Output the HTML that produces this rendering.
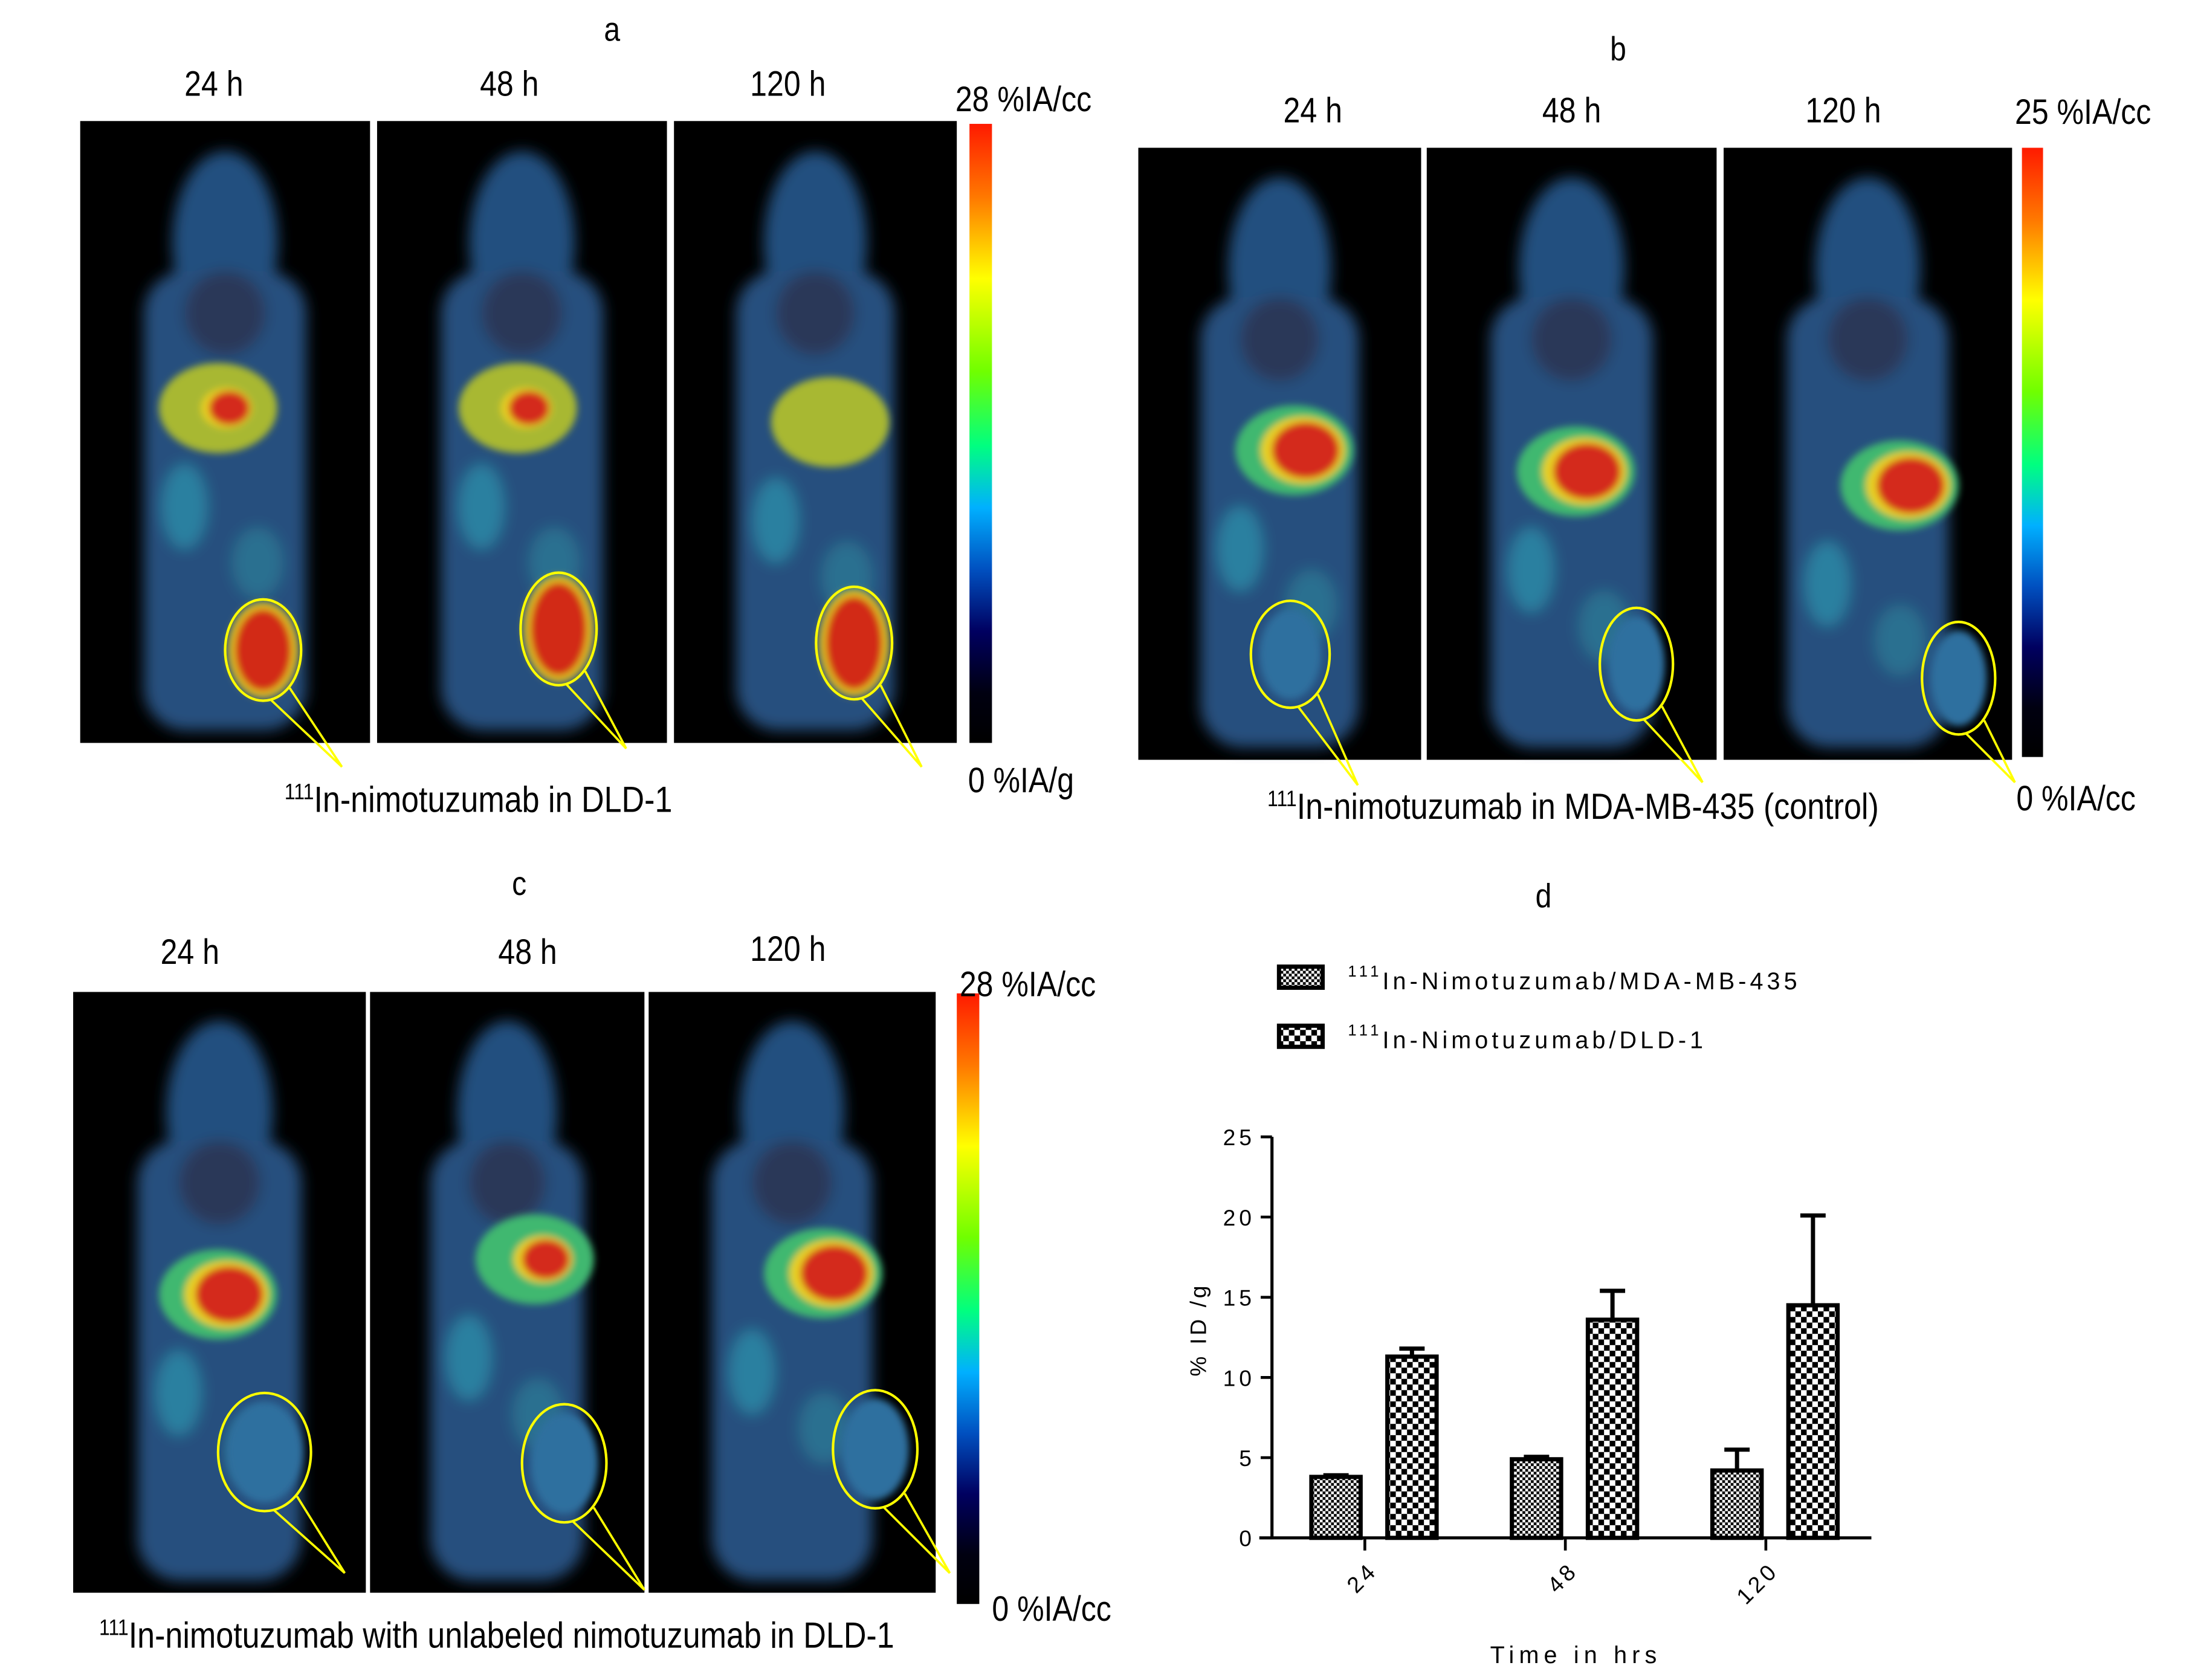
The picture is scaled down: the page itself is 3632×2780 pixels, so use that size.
<!DOCTYPE html>
<html><head><meta charset="utf-8"><style>
html,body{margin:0;padding:0;background:#fff}
svg{display:block}
text{font-family:"Liberation Sans",Arial,sans-serif;fill:#000}
</style></head><body>
<svg id="root" width="3632" height="2780" viewBox="0 0 1560 1194" xmlns="http://www.w3.org/2000/svg">
<defs>
<filter id="blur" x="-30%" y="-30%" width="160%" height="160%"><feGaussianBlur stdDeviation="5"/></filter>
<filter id="blur2" x="-30%" y="-30%" width="160%" height="160%"><feGaussianBlur stdDeviation="2.5"/></filter>
<linearGradient id="cbar" x1="0" y1="0" x2="0" y2="1">
<stop offset="0" stop-color="#ff1a00"/><stop offset="0.12" stop-color="#ff7a00"/><stop offset="0.25" stop-color="#ffff00"/><stop offset="0.4" stop-color="#70ff00"/><stop offset="0.52" stop-color="#00ff80"/><stop offset="0.62" stop-color="#00b0ff"/><stop offset="0.72" stop-color="#0050c0"/><stop offset="0.82" stop-color="#000060"/><stop offset="0.92" stop-color="#000010"/><stop offset="1" stop-color="#000"/>
</linearGradient>
<pattern id="fine" width="4" height="4" patternUnits="userSpaceOnUse"><rect width="4" height="4" fill="#fff"/><rect width="2" height="2" fill="#000"/><rect x="2" y="2" width="2" height="2" fill="#000"/></pattern>
<pattern id="coarse" width="8" height="8" patternUnits="userSpaceOnUse"><rect width="8" height="8" fill="#fff"/><rect width="4" height="4" fill="#000"/><rect x="4" y="4" width="4" height="4" fill="#000"/></pattern>
</defs>
<g id="images"></g>
<g id="chart"></g>
</svg>
<script>
const NS="http://www.w3.org/2000/svg";
function el(tag,attrs,parent,txt){const e=document.createElementNS(NS,tag);for(const k in attrs)e.setAttribute(k,attrs[k]);if(txt!==undefined)e.textContent=txt;parent.appendChild(e);return e;}
const imgs=document.getElementById('images');

const panels=[
 {g:'a',x:57,y:86,w:206,h:442,lx:155,ly:290,hot:0.6,tx:187,ty:462,rx:27,ry:36,th:1,px:243,py:545},
 {g:'a',x:268,y:86,w:206,h:442,lx:368,ly:290,hot:0.6,tx:397,ty:447,rx:27,ry:40,th:1,px:445,py:532},
 {g:'a',x:479,y:86,w:201,h:442,lx:590,ly:300,hot:0.25,tx:607,ty:457,rx:27,ry:40,th:1,px:655,py:545},
 {g:'b',x:809,y:105,w:201,h:435,lx:920,ly:320,hot:1,tx:917,ty:465,rx:28,ry:38,th:0,px:965,py:558},
 {g:'b',x:1014,y:105,w:206,h:435,lx:1120,ly:335,hot:1,tx:1163,ty:472,rx:26,ry:40,th:0,px:1210,py:556},
 {g:'b',x:1225,y:105,w:205,h:435,lx:1350,ly:345,hot:1,tx:1392,ty:482,rx:26,ry:40,th:0,px:1432,py:556},
 {g:'c',x:52,y:705,w:208,h:427,lx:155,ly:920,hot:1,tx:188,ty:1032,rx:33,ry:42,th:0,px:245,py:1118},
 {g:'c',x:263,y:705,w:195,h:427,lx:380,ly:895,hot:0.7,tx:401,ty:1040,rx:30,ry:42,th:0,px:458,py:1130},
 {g:'c',x:461,y:705,w:204,h:427,lx:585,ly:905,hot:1,tx:622,ty:1030,rx:30,ry:42,th:0,px:675,py:1118}
];
panels.forEach((p,i)=>{
 const g=el('g',{},imgs);
 
 
 el('rect',{x:p.x,y:p.y,width:p.w,height:p.h,fill:'#000'},g);
 const cx=p.x+p.w*0.5, bw=p.w*0.28;
 const top=p.y+p.h*0.06, bot=p.y+p.h*0.98;
 const b=el('g',{filter:'url(#blur)'},g);
 el('ellipse',{cx:cx,cy:top+60,rx:bw*0.65,ry:65,fill:'#24507f'},b);
 el('rect',{x:cx-bw,y:top+80,width:bw*2,height:bot-top-80,rx:30,fill:'#25507e'},b);
 el('ellipse',{cx:cx-bw*0.5,cy:p.ly+70,rx:16,ry:30,fill:'#2a80a0'},b);
 el('ellipse',{cx:cx+bw*0.4,cy:p.ly+110,rx:18,ry:25,fill:'#2a7090'},b);
 el('ellipse',{cx:cx,cy:top+110,rx:bw*0.5,ry:30,fill:'#2a3858'},b);
 const lv=el('g',{filter:'url(#blur2)'},g);
 el('ellipse',{cx:p.lx,cy:p.ly,rx:42,ry:32,fill:p.g==='a'?'#a8b830':'#40b870'},lv);
 if(p.hot>0.3){el('ellipse',{cx:p.lx+6,cy:p.ly,rx:30*p.hot,ry:24*p.hot,fill:'#e8d020'},lv);
  el('ellipse',{cx:p.lx+8,cy:p.ly,rx:24*p.hot,ry:20*p.hot,fill:'#d42a1a'},lv);}
 const tm=el('g',{filter:'url(#blur2)'},g);
 if(p.th){el('ellipse',{cx:p.tx,cy:p.ty,rx:p.rx-2,ry:p.ry-2,fill:'#e0c020'},tm);el('ellipse',{cx:p.tx,cy:p.ty,rx:p.rx-7,ry:p.ry-7,fill:'#d22a18'},tm);}
 else el('ellipse',{cx:p.tx,cy:p.ty,rx:p.rx-6,ry:p.ry-6,fill:'#2f6f9f'},tm);
 el('polyline',{points:`${p.tx+p.rx*0.7},${p.ty+p.ry*0.75} ${p.px},${p.py} ${p.tx+p.rx*0.2},${p.ty+p.ry*0.98}`,fill:'none',stroke:'#ffff00','stroke-width':1.6},g);
 el('ellipse',{cx:p.tx,cy:p.ty,rx:p.rx,ry:p.ry,fill:'none',stroke:'#ffff00','stroke-width':1.8},g);
});
const cbars=[[689,88,16,440],[1437,105,15,433],[680,706,16,434]];
cbars.forEach((c,i)=>{const r=el('rect',{x:c[0],y:c[1],width:c[2],height:c[3],fill:'url(#cbar)'},imgs);
 
 });
function T(x,y,s,size,name,anchor){const t=el('text',{x:x,y:y,'font-size':size,'text-anchor':anchor||'middle',transform:`translate(${x},${y}) scale(0.86,1) translate(${-x},${-y})`},imgs,s);
 
 return t;}
T(435,29,'a',24,'panel-label-a');T(1150,43,'b',24,'panel-label-b');T(369,636,'c',24,'panel-label-c');T(1097,645,'d',24,'panel-label-d');
[[152,68],[362,68],[560,68]].forEach((p,i)=>T(p[0],p[1],['24 h','48 h','120 h'][i],25,'time-label-a'));
[[933,87],[1117,87],[1310,87]].forEach((p,i)=>T(p[0],p[1],['24 h','48 h','120 h'][i],25,'time-label-b'));
[[135,685],[375,685],[560,683]].forEach((p,i)=>T(p[0],p[1],['24 h','48 h','120 h'][i],25,'time-label-c'));
T(679,79,'28 %IA/cc',25,'colorbar-max-a','start');T(688,563,'0 %IA/g',25,'colorbar-min-a','start');
T(1432,88,'25 %IA/cc',25,'colorbar-max-b','start');T(1433,576,'0 %IA/cc',25,'colorbar-min-b','start');
T(682,708,'28 %IA/cc',25,'colorbar-max-c','start');T(705,1152,'0 %IA/cc',25,'colorbar-min-c','start');
function cap(x,y,s,name){const t=el('text',{x:x,y:y,'font-size':26,'text-anchor':'middle',transform:`translate(${x},${y}) scale(0.86,1) translate(${-x},${-y})`},imgs);
 
 el('tspan',{'font-size':16,dy:-9},t,'111');el('tspan',{dy:9},t,s);}
cap(340,577,'In-nimotuzumab in DLD-1','caption-a');
cap(1118,582,'In-nimotuzumab in MDA-MB-435 (control)','caption-b');
cap(353,1171,'In-nimotuzumab with unlabeled nimotuzumab in DLD-1','caption-c');

// ---- bar chart ----
const categories=['24','48','120'];
const seriesNames=['In-Nimotuzumab/MDA-MB-435','In-Nimotuzumab/DLD-1'];
const mdaValues=[3.8,4.9,4.2];
const mdaErr=[0.1,0.15,1.3];
const dldValues=[11.3,13.6,14.5];
const dldErr=[0.5,1.8,5.6];
const yTicks=[0,5,10,15,20,25];
const ch=document.getElementById('chart');
const X0=904,X1=1330,Y0=1093,Y1=808;
const yS=v=>Y0-(v/25)*(Y0-Y1);
const xS=i=>970+i*142.5;
const L=(a,name)=>{const e=el('line',a,ch);return e;};
L({x1:X0,y1:Y1,x2:X0,y2:Y0+1,stroke:'#000','stroke-width':2.2},'y-axis');
L({x1:895,y1:Y0,x2:X1,y2:Y0,stroke:'#000','stroke-width':2.2},'x-axis');
yTicks.forEach(v=>{L({x1:X0-8,y1:yS(v),x2:X0,y2:yS(v),stroke:'#000','stroke-width':2},'y-tick');
 const t=el('text',{x:X0-12,y:yS(v)+6,'font-size':16,'text-anchor':'end','letter-spacing':2.5},ch,String(v));
 });
categories.forEach((c,i)=>{const x=xS(i);
 L({x1:x,y1:Y0,x2:x,y2:Y0+9,stroke:'#000','stroke-width':2},'x-tick');
 const t=el('text',{x:0,y:0,'font-size':16,'text-anchor':'end','letter-spacing':2.5,transform:`translate(${x+10},${Y0+24}) rotate(-45)`},ch,c);
 
 const sets=[[mdaValues,mdaErr,'url(#fine)',-38],[dldValues,dldErr,'url(#coarse)',16]];
 sets.forEach((s,k)=>{const v=s[0][i],e=s[1][i],bx=x+s[3],bw=35;
  const ex=bx+bw/2;
  L({x1:ex,y1:yS(v),x2:ex,y2:yS(v+e),stroke:'#000','stroke-width':3},'error-bar');
  L({x1:ex-9,y1:yS(v+e),x2:ex+9,y2:yS(v+e),stroke:'#000','stroke-width':3},'error-cap');
  const r=el('rect',{x:bx,y:yS(v),width:bw,height:Y0-yS(v),fill:s[2],stroke:'#000','stroke-width':3},ch);
  
  });
});
const yl=el('text',{x:0,y:0,'font-size':16,'text-anchor':'middle','letter-spacing':2,transform:`translate(857,945) rotate(-90)`},ch,'% ID /g');

const xl=el('text',{x:1120,y:1182,'font-size':17,'text-anchor':'middle','letter-spacing':3.5},ch,'Time in hrs');

seriesNames.forEach((n,k)=>{const y=687+k*42;
 const g=el('g',{},ch);
 el('rect',{x:909,y:y,width:31,height:15,fill:k?'url(#coarse)':'url(#fine)',stroke:'#000','stroke-width':3},g);
 const t=el('text',{x:958,y:y+16,'font-size':17,'letter-spacing':2.6},g);
 el('tspan',{'font-size':11,dy:-9},t,'111');el('tspan',{dy:9},t,n);});
</script>
</body></html>
